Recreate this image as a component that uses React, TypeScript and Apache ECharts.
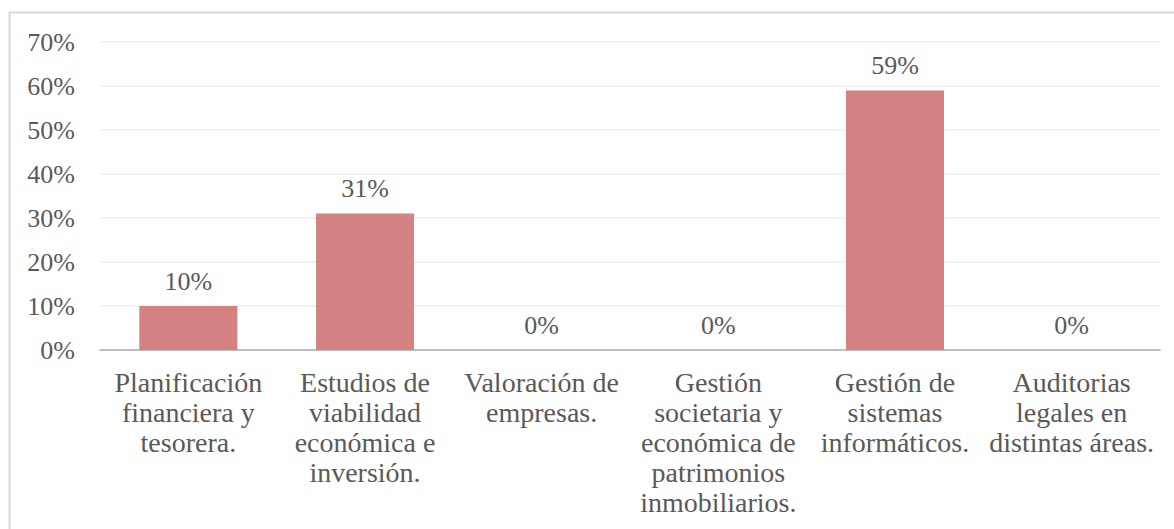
import React, { useEffect, useRef } from "react";
import * as echarts from "echarts";

const categories = [
  "Planificación\nfinanciera y\ntesorera.",
  "Estudios de\nviabilidad\neconómica e\ninversión.",
  "Valoración de\nempresas.",
  "Gestión\nsocietaria y\neconómica de\npatrimonios\ninmobiliarios.",
  "Gestión de\nsistemas\ninformáticos.",
  "Auditorias\nlegales en\ndistintas áreas.",
];
const values = [10, 31, 0, 0, 59, 0];
const yTicks = { min: 0, max: 70, interval: 10 };

const FONT = "Liberation Serif";
const TEXT = "#595959";

export default function App() {
  const ref = useRef<HTMLDivElement>(null);
  useEffect(() => {
    if (!ref.current) return;
    const chart = echarts.init(ref.current, null, { renderer: "svg" });
    chart.setOption({
      animation: false,
      backgroundColor: "#ffffff",
      graphic: [
        {
          type: "rect",
          shape: { x: 9.5, y: 12.5, width: 1300, height: 700 },
          style: { fill: "none", stroke: "#d9d9d9", lineWidth: 2 },
          silent: true,
          z: -1,
        },
      ],
      grid: { left: 100, right: 14, top: 42, bottom: 179, containLabel: false },
      xAxis: {
        type: "category",
        data: categories,
        axisLine: { show: true, lineStyle: { color: "#bfbfbf", width: 2 } },
        axisTick: { show: false },
        axisLabel: {
          interval: 0,
          color: TEXT,
          fontFamily: FONT,
          fontSize: 28,
          lineHeight: 30,
          margin: 17,
        },
      },
      yAxis: {
        type: "value",
        min: yTicks.min,
        max: yTicks.max,
        interval: yTicks.interval,
        axisLine: { show: false },
        axisTick: { show: false },
        splitLine: { lineStyle: { color: "#eeeeee", width: 1.5 } },
        axisLabel: {
          formatter: "{value}%",
          color: TEXT,
          fontFamily: FONT,
          fontSize: 26,
          margin: 25,
        },
      },
      series: [
        {
          type: "bar",
          data: values,
          barWidth: 98,
          itemStyle: { color: "#d48181" },
          label: {
            show: true,
            position: "top",
            distance: 12,
            formatter: "{c}%",
            color: TEXT,
            fontFamily: FONT,
            fontSize: 26,
          },
        },
      ],
    });
    return () => chart.dispose();
  }, []);
  return (
    <div
      ref={ref}
      style={{ position: "fixed", left: 0, top: 0, width: 1174, height: 529 }}
    />
  );
}
